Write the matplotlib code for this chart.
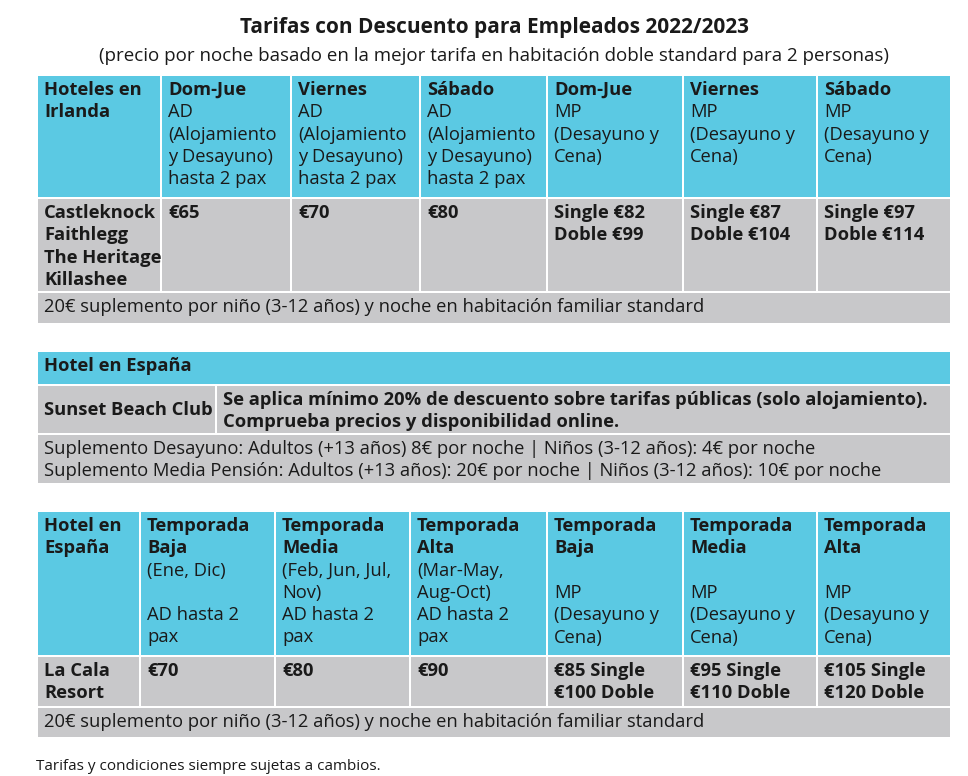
import matplotlib.pyplot as plt
from matplotlib.patches import Rectangle

plt.rcParams['font.family'] = 'Open Sans'

CYAN = '#5BC9E3'
GREY = '#C8C8CA'

title = 'Tarifas con Descuento para Empleados 2022/2023'
subtitle = '(precio por noche basado en la mejor tarifa en habitación doble standard para 2 personas)'
footnote = 'Tarifas y condiciones siempre sujetas a cambios.'

# table 1
t1_heads = ['Hoteles en\nIrlanda', 'Dom-Jue', 'Viernes', 'Sábado', 'Dom-Jue', 'Viernes', 'Sábado']
t1_subs = ['', 'AD\n(Alojamiento\ny Desayuno)\nhasta 2 pax', 'AD\n(Alojamiento\ny Desayuno)\nhasta 2 pax',
           'AD\n(Alojamiento\ny Desayuno)\nhasta 2 pax', 'MP\n(Desayuno y\nCena)', 'MP\n(Desayuno y\nCena)',
           'MP\n(Desayuno y\nCena)']
t1_hotels = 'Castleknock\nFaithlegg\nThe Heritage\nKillashee'
t1_prices = ['€65', '€70', '€80', 'Single €82\nDoble €99', 'Single €87\nDoble €104', 'Single €97\nDoble €114']
t1_note = '20€ suplemento por niño (3-12 años) y noche en habitación familiar standard'

# table 2
t2_head = 'Hotel en España'
t2_hotel = 'Sunset Beach Club'
t2_text = 'Se aplica mínimo 20% de descuento sobre tarifas públicas (solo alojamiento).\nComprueba precios y disponibilidad online.'
t2_note = ('Suplemento Desayuno: Adultos (+13 años) 8€ por noche | Niños (3-12 años): 4€ por noche\n'
           'Suplemento Media Pensión: Adultos (+13 años): 20€ por noche | Niños (3-12 años): 10€ por noche')

# table 3
t3_heads = ['Hotel en\nEspaña', 'Temporada\nBaja', 'Temporada\nMedia', 'Temporada\nAlta',
            'Temporada\nBaja', 'Temporada\nMedia', 'Temporada\nAlta']
t3_subs = ['', '(Ene, Dic)\n\nAD hasta 2\npax', '(Feb, Jun, Jul,\nNov)\nAD hasta 2\npax',
           '(Mar-May,\nAug-Oct)\nAD hasta 2\npax', '\nMP\n(Desayuno y\nCena)',
           '\nMP\n(Desayuno y\nCena)', '\nMP\n(Desayuno y\nCena)']
t3_hotel = 'La Cala\nResort'
t3_prices = ['€70', '€80', '€90', '€85 Single\n€100 Doble', '€95 Single\n€110 Doble', '€105 Single\n€120 Doble']
t3_note = t1_note

fig = plt.figure(figsize=(9.68, 7.76), dpi=100)
ax = fig.add_axes([0, 0, 1, 1])
ax.set_xlim(0, 968)
ax.set_ylim(776, 0)
ax.axis('off')

FS = 13.2
PITCH = 22.3


def cell(x0, x1, y0, y1, color, text='', bold=False, sub=''):
    ax.add_patch(Rectangle((x0 + 1, y0 + 1), x1 - x0 - 2, y1 - y0 - 2, color=color, lw=0))
    lines = [(t, bold) for t in text.split('\n')] if text else []
    if sub:
        lines += [(t, False) for t in sub.split('\n')]
    for i, (t, b) in enumerate(lines):
        if t:
            ax.text(x0 + 7, y0 + 15 + i * PITCH, t, fontsize=FS,
                    fontweight='bold' if b else 'normal',
                    va='center', ha='left', color='#1a1a1a')


ax.text(494, 27, title, fontsize=15, fontweight='bold', ha='center', va='center', color='#1a1a1a')
ax.text(494, 56, subtitle, fontsize=13.5, ha='center', va='center', color='#1a1a1a')

cols1 = [37, 161, 291, 420, 547, 683, 817, 951]
for i in range(7):
    cell(cols1[i], cols1[i + 1], 75, 198, CYAN, t1_heads[i], True, t1_subs[i])
cell(cols1[0], cols1[1], 198, 292, GREY, t1_hotels, True)
for i in range(6):
    cell(cols1[i + 1], cols1[i + 2], 198, 292, GREY, t1_prices[i], True)
cell(37, 951, 292, 324, GREY, t1_note)

cell(37, 951, 351, 385, CYAN, t2_head, True)
cell(37, 216, 385, 434, GREY, '', True)
ax.text(44, 410, t2_hotel, fontsize=FS, fontweight='bold', va='center', ha='left', color='#1a1a1a')
cell(216, 951, 385, 434, GREY, t2_text, True)
cell(37, 951, 434, 484, GREY, t2_note)

cols3 = [37, 140, 275, 410, 547, 683, 817, 951]
for i in range(7):
    cell(cols3[i], cols3[i + 1], 511, 656, CYAN, t3_heads[i], True, t3_subs[i])
cell(cols3[0], cols3[1], 656, 707, GREY, t3_hotel, True)
for i in range(6):
    cell(cols3[i + 1], cols3[i + 2], 656, 707, GREY, t3_prices[i], True)
cell(37, 951, 707, 738, GREY, t3_note)

ax.text(36, 766, footnote, fontsize=11, ha='left', va='center', color='#1a1a1a')

fig.savefig('out.png', dpi=100)
